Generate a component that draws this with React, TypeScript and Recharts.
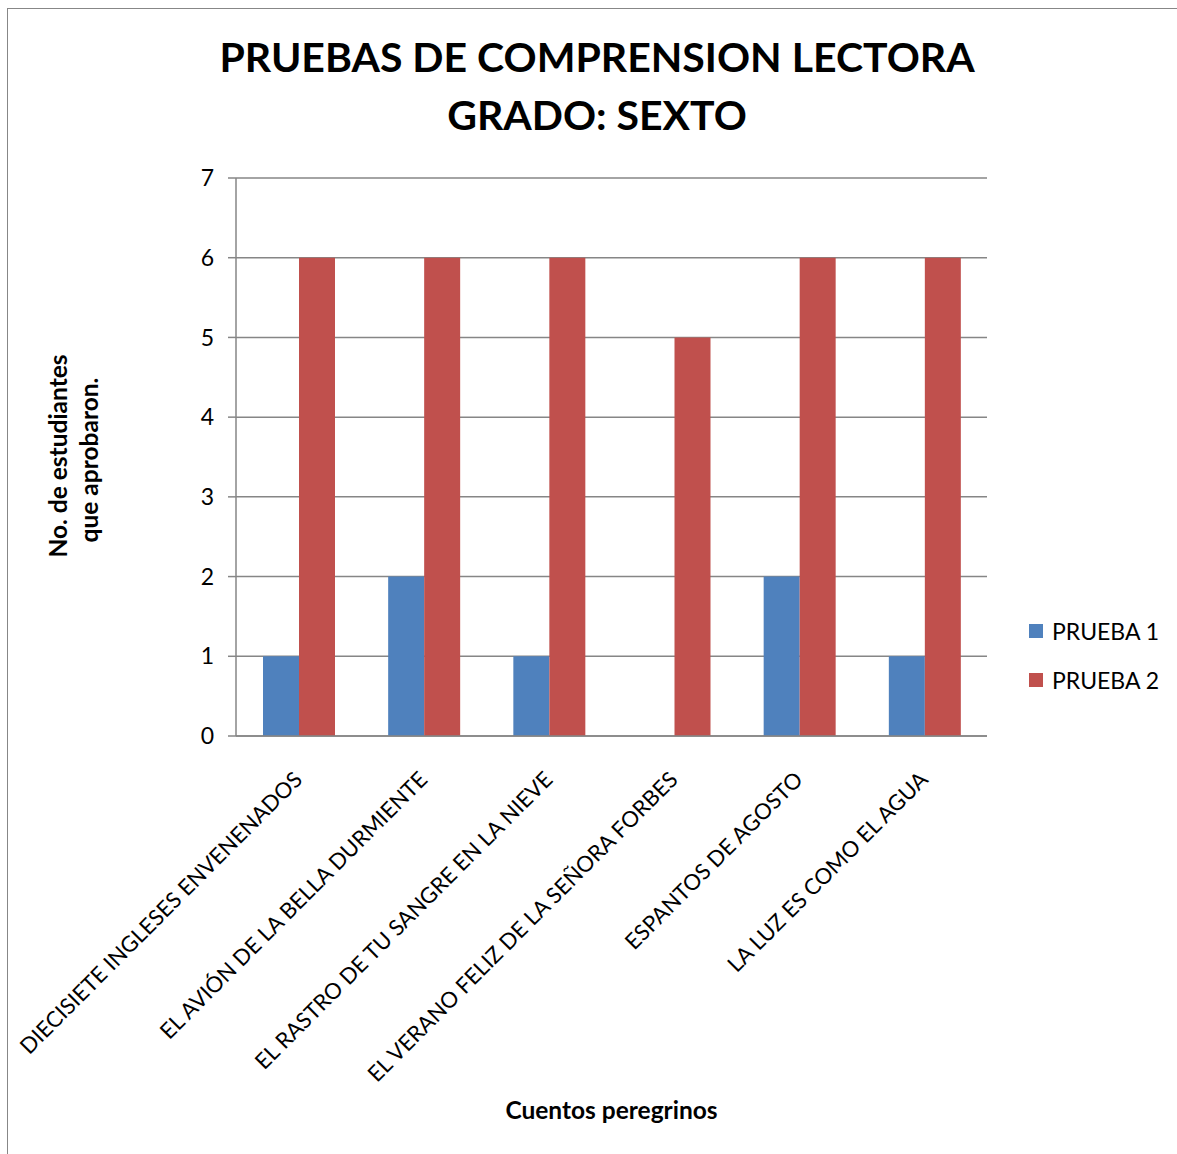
import React from 'react';
import { BarChart, Bar, XAxis, YAxis, CartesianGrid, Legend } from 'recharts';

const cuentos = [
  'DIECISIETE INGLESES ENVENENADOS',
  'EL AVIÓN DE LA BELLA DURMIENTE',
  'EL RASTRO DE TU SANGRE EN LA NIEVE',
  'EL VERANO FELIZ DE LA SEÑORA FORBES',
  'ESPANTOS DE AGOSTO',
  'LA LUZ ES COMO EL AGUA',
];
const prueba1 = [1, 2, 1, 0, 2, 1];
const prueba2 = [6, 6, 6, 5, 6, 6];
const yTicks = [0, 1, 2, 3, 4, 5, 6, 7];

const data = cuentos.map((name, i) => ({ name, p1: prueba1[i], p2: prueba2[i] }));

const FONT = 'Lato, "Open Sans", sans-serif';
const GRID = '#868686';

function CategoryTick({ x, y, payload }: any) {
  return (
    <text
      x={x + 5}
      y={y + 37}
      transform={`rotate(-45, ${x + 5}, ${y + 37})`}
      textAnchor="end"
      fontFamily={FONT}
      fontSize={22}
      fill="#000"
    >
      {payload.value}
    </text>
  );
}

function YTitle() {
  return (
    <g fontFamily={FONT} fontSize={24.5} fontWeight="bold" fill="#000" textAnchor="middle">
      <text x={59} y={447} transform="rotate(-90, 59, 447)">No. de estudiantes</text>
      <text x={90} y={451} transform="rotate(-90, 90, 451)">que aprobaron.</text>
    </g>
  );
}

function LegendBox({ payload }: any) {
  return (
    <div style={{ fontFamily: FONT, fontSize: 23 }}>
      {(payload || []).map((p: any) => (
        <div key={p.value} style={{ display: 'flex', alignItems: 'center', height: 49 }}>
          <span style={{ width: 14, height: 14, background: p.color, marginRight: 9 }} />
          <span>{p.value}</span>
        </div>
      ))}
    </div>
  );
}

export default function App() {
  return (
    <div
      style={{
        position: 'fixed',
        left: 0,
        top: 0,
        width: 1177,
        height: 1154,
        background: '#fff',
        overflow: 'hidden',
      }}
    >
      <div
        style={{
          position: 'absolute',
          left: 7,
          top: 8,
          width: 1200,
          height: 1200,
          borderLeft: '1px solid #878787',
          borderTop: '1px solid #878787',
        }}
      />
      <div
        style={{
          position: 'absolute',
          left: 8,
          top: 28,
          width: 1178,
          textAlign: 'center',
          fontFamily: FONT,
          fontWeight: 'bold',
          fontSize: 41,
          lineHeight: '58px',
          color: '#000',
        }}
      >
        PRUEBAS DE COMPRENSION LECTORA
        <br />
        GRADO: SEXTO
      </div>
      <div style={{ position: 'absolute', left: 8, top: 9 }}>
        <BarChart
          width={1168}
          height={1144}
          data={data}
          margin={{ top: 169, right: 39, bottom: 14, left: 168 }}
          barGap={0}
        >
          <CartesianGrid vertical={false} stroke={GRID} strokeWidth={1.5} />
          <XAxis
            dataKey="name"
            height={403}
            interval={0}
            tickLine={false}
            axisLine={{ stroke: GRID, strokeWidth: 1.5 }}
            tick={<CategoryTick />}
            label={{
              value: 'Cuentos peregrinos',
              position: 'insideBottom',
              offset: 20,
              fontFamily: FONT,
              fontSize: 24.5,
              fontWeight: 'bold',
              fill: '#000',
            }}
          />
          <YAxis
            width={60}
            domain={[0, 7]}
            ticks={yTicks}
            interval={0}
            tickSize={8}
            tickMargin={14}
            tickLine={{ stroke: GRID, strokeWidth: 1.5 }}
            axisLine={{ stroke: GRID, strokeWidth: 1.5 }}
            tick={{ fontFamily: FONT, fontSize: 23, fill: '#000' }}
            label={{ content: <YTitle /> }}
          />
          <Legend
            layout="vertical"
            align="right"
            verticalAlign="middle"
            content={<LegendBox />}
            wrapperStyle={{ left: 1021, top: 597, width: 150 }}
          />
          <Bar dataKey="p1" name="PRUEBA 1" fill="#4F81BD" barSize={36} isAnimationActive={false} />
          <Bar dataKey="p2" name="PRUEBA 2" fill="#C0504D" barSize={36} isAnimationActive={false} />
        </BarChart>
      </div>
    </div>
  );
}
